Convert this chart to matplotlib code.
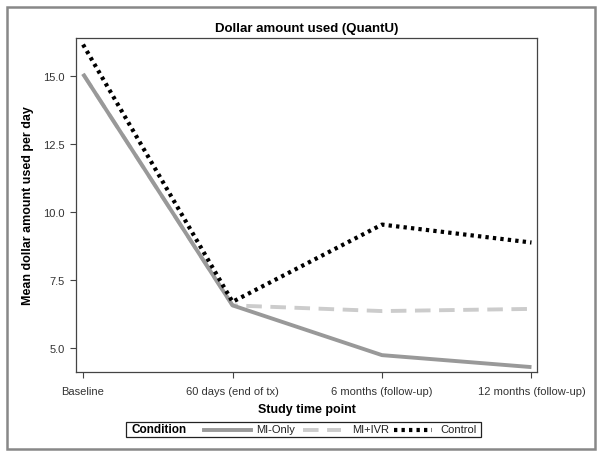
import matplotlib
matplotlib.use("Agg")
import matplotlib.pyplot as plt
from matplotlib.patches import Rectangle
from matplotlib.lines import Line2D

plt.rcParams['font.family'] = ['Liberation Sans', 'DejaVu Sans']

# data
timepoints = ["Baseline", "60 days (end of tx)", "6 months (follow-up)", "12 months (follow-up)"]
mi_only = [15.06, 6.55, 4.72, 4.28]
mi_ivr = [15.06, 6.55, 6.34, 6.42]
control = [16.14, 6.68, 9.52, 8.86]
yticks = [5.0, 7.5, 10.0, 12.5, 15.0]

W, H = 604, 456
fig = plt.figure(figsize=(W / 100, H / 100), dpi=100)

# outer frame
fig.patches.append(Rectangle((7 / W, 1 - 450 / H), (595 - 7) / W, (450 - 8) / H,
                             transform=fig.transFigure, fill=False,
                             edgecolor="#888888", linewidth=1.8))

ax = fig.add_axes([76 / W, 1 - 373 / H, (537 - 76) / W, (373 - 39) / H])
x = list(range(len(timepoints)))

dots = (0, (0.8, 1.0))
ax.plot(x, mi_ivr, color="#cccccc", lw=2.8, dashes=(4, 2.2))
ax.plot(x, mi_only, color="#999999", lw=2.8, solid_capstyle="butt")
ax.plot(x, control, color="black", lw=3.0, linestyle=dots)

ax.set_xlim(-0.047, 3.037)
ax.set_ylim(4.1, 16.38)
ax.set_xticks(x)
ax.set_xticklabels(timepoints, fontsize=8, color="#333333")
ax.set_yticks(yticks)
ax.set_yticklabels([f"{v:.1f}" for v in yticks], fontsize=8, color="#333333")
ax.tick_params(length=4, width=0.8, color="#444444", pad=4)
ax.xaxis.set_tick_params(pad=6)
for s in ax.spines.values():
    s.set_color("#444444")
    s.set_linewidth(0.9)

ax.set_title("Dollar amount used (QuantU)", fontsize=9.5, fontweight="bold", pad=5)
ax.set_xlabel("Study time point", fontsize=9, fontweight="bold", labelpad=5)
ax.set_ylabel("Mean dollar amount used per day", fontsize=9, fontweight="bold", labelpad=7)

# legend box at bottom
fig.patches.append(Rectangle((126 / W, 1 - 438 / H), (481 - 126) / W, 15 / H,
                             transform=fig.transFigure, fill=False,
                             edgecolor="#222222", linewidth=0.9))
ly = 1 - 430.5 / H
fig.text(131 / W, ly, "Condition", fontsize=8.5, fontweight="bold", va="center")
fig.add_artist(Line2D([204 / W, 251 / W], [ly, ly], transform=fig.transFigure,
                      color="#999999", lw=2.8))
fig.text(256 / W, ly, "MI-Only", fontsize=8, va="center", color="#222222")
fig.add_artist(Line2D([303 / W, 341 / W], [ly, ly], transform=fig.transFigure,
                      color="#cccccc", lw=2.8, dashes=(4, 2.2)))
fig.text(352 / W, ly, "MI+IVR", fontsize=8, va="center", color="#222222")
fig.add_artist(Line2D([394 / W, 432 / W], [ly, ly], transform=fig.transFigure,
                      color="black", lw=3.0, linestyle=dots))
fig.text(440 / W, ly, "Control", fontsize=8, va="center", color="#222222")

fig.savefig("out.png", dpi=100)
